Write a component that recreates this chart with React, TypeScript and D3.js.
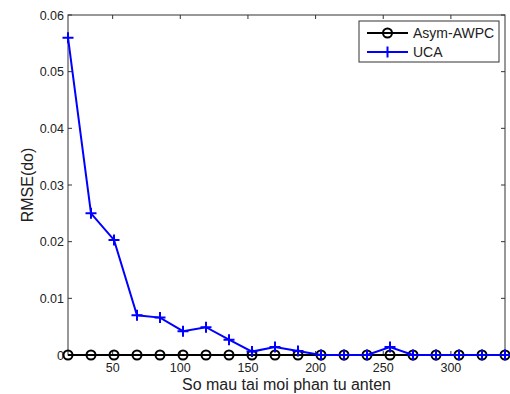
import { useEffect, useRef } from "react";
import * as d3 from "d3";

// samples per antenna element
const samples = [17, 34, 51, 68, 85, 102, 119, 136, 153, 170, 187, 204, 221, 238, 255, 272, 289, 306, 323, 340];
const asymAwpc = [0, 0, 0, 0, 0, 0, 0, 0, 0, 0, 0, 0, 0, 0, 0, 0, 0, 0, 0, 0];
const uca = [0.056, 0.025, 0.0203, 0.007, 0.0066, 0.0042, 0.0049, 0.0027, 0.0006, 0.0014, 0.0007, 0, 0, 0, 0.0014, 0, 0, 0, 0, 0];
const xTicks = [50, 100, 150, 200, 250, 300];
const yTicks = [0, 0.01, 0.02, 0.03, 0.04, 0.05, 0.06];

export default function App() {
  const svgRef = useRef<SVGSVGElement | null>(null);

  useEffect(() => {
    const width = 510;
    const height = 394;
    const margin = { top: 15, right: 5, bottom: 39, left: 68 };
    const innerW = width - margin.left - margin.right;
    const innerH = height - margin.top - margin.bottom;
    const font = "Liberation Sans, Arial, sans-serif";

    const svg = d3.select(svgRef.current);
    svg.selectAll("*").remove();

    const g = svg.append("g").attr("transform", `translate(${margin.left},${margin.top})`);

    const x = d3.scaleLinear().domain([17, 340]).range([0, innerW]);
    const y = d3.scaleLinear().domain([0, 0.06]).range([innerH, 0]);

    // frame
    g.append("rect")
      .attr("width", innerW)
      .attr("height", innerH)
      .attr("fill", "none")
      .attr("stroke", "#333")
      .attr("stroke-width", 1);

    // ticks (inward, on all four sides)
    const tl = 4;
    xTicks.forEach((t) => {
      g.append("line").attr("x1", x(t)).attr("x2", x(t)).attr("y1", innerH).attr("y2", innerH - tl).attr("stroke", "#333");
      g.append("line").attr("x1", x(t)).attr("x2", x(t)).attr("y1", 0).attr("y2", tl).attr("stroke", "#333");
      g.append("text")
        .attr("x", x(t))
        .attr("y", innerH + 17)
        .attr("text-anchor", "middle")
        .attr("font-family", font)
        .attr("font-size", "12.5px")
        .attr("fill", "#222")
        .text(t);
    });
    yTicks.forEach((t) => {
      g.append("line").attr("x1", 0).attr("x2", tl).attr("y1", y(t)).attr("y2", y(t)).attr("stroke", "#333");
      g.append("line").attr("x1", innerW).attr("x2", innerW - tl).attr("y1", y(t)).attr("y2", y(t)).attr("stroke", "#333");
      g.append("text")
        .attr("x", -4)
        .attr("y", y(t) + 4.5)
        .attr("text-anchor", "end")
        .attr("font-family", font)
        .attr("font-size", "12.5px")
        .attr("fill", "#222")
        .text(t === 0 ? "0" : d3.format(".2f")(t));
    });

    const line = d3
      .line<number>()
      .x((_, i) => x(samples[i]))
      .y((d) => y(d));

    // Asym-AWPC (black, circles)
    g.append("path")
      .datum(asymAwpc)
      .attr("d", line)
      .attr("fill", "none")
      .attr("stroke", "#000")
      .attr("stroke-width", 2);
    g.selectAll(".circ")
      .data(asymAwpc)
      .enter()
      .append("circle")
      .attr("cx", (_, i) => x(samples[i]))
      .attr("cy", (d) => y(d))
      .attr("r", 4.5)
      .attr("fill", "none")
      .attr("stroke", "#000")
      .attr("stroke-width", 2);

    // UCA (blue, plus)
    const blue = "#0000ff";
    g.append("path")
      .datum(uca)
      .attr("d", line)
      .attr("fill", "none")
      .attr("stroke", blue)
      .attr("stroke-width", 2);
    const pl = 5.5;
    uca.forEach((d, i) => {
      const cx = x(samples[i]);
      const cy = y(d);
      g.append("path")
        .attr("d", `M${cx - pl},${cy}H${cx + pl}M${cx},${cy - pl}V${cy + pl}`)
        .attr("stroke", blue)
        .attr("stroke-width", 2);
    });

    // axis titles
    svg.append("text")
      .attr("x", margin.left + innerW / 2)
      .attr("y", 390)
      .attr("text-anchor", "middle")
      .attr("font-family", font)
      .attr("font-size", "16px")
      .attr("fill", "#222")
      .text("So mau tai moi phan tu anten");
    svg.append("text")
      .attr("transform", `translate(33,${margin.top + innerH / 2}) rotate(-90)`)
      .attr("text-anchor", "middle")
      .attr("font-family", font)
      .attr("font-size", "16px")
      .attr("fill", "#222")
      .text("RMSE(do)");

    // legend
    const lg = svg.append("g").attr("transform", "translate(359,21)");
    lg.append("rect")
      .attr("width", 140)
      .attr("height", 41)
      .attr("fill", "#fff")
      .attr("stroke", "#333")
      .attr("stroke-width", 1);
    const items = [
      { label: "Asym-AWPC", color: "#000", marker: "circle" },
      { label: "UCA", color: blue, marker: "plus" },
    ];
    items.forEach((it, i) => {
      const ly = 12 + i * 19;
      lg.append("line").attr("x1", 8).attr("x2", 49).attr("y1", ly).attr("y2", ly).attr("stroke", it.color).attr("stroke-width", 2);
      if (it.marker === "circle") {
        lg.append("circle").attr("cx", 28.5).attr("cy", ly).attr("r", 4.5).attr("fill", "none").attr("stroke", it.color).attr("stroke-width", 2);
      } else {
        lg.append("path")
          .attr("d", `M${28.5 - pl},${ly}H${28.5 + pl}M28.5,${ly - pl}V${ly + pl}`)
          .attr("stroke", it.color)
          .attr("stroke-width", 2);
      }
      lg.append("text")
        .attr("x", 54)
        .attr("y", ly + 5)
        .attr("font-family", font)
        .attr("font-size", "14px")
        .attr("fill", "#222")
        .text(it.label);
    });
  }, []);

  return (
    <div style={{ position: "absolute", left: 0, top: 0, background: "#fff" }}>
      <svg ref={svgRef} width={510} height={394} style={{ display: "block" }} />
    </div>
  );
}
